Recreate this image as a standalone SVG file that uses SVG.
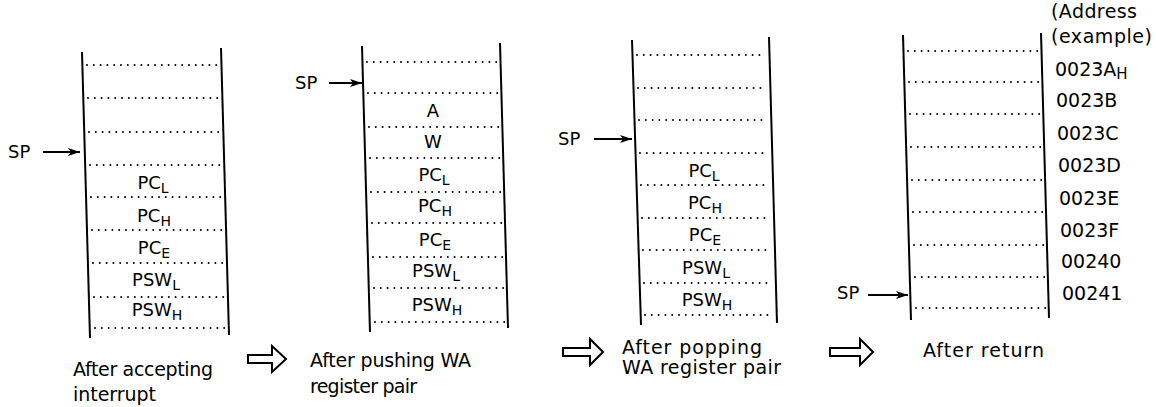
<svg xmlns="http://www.w3.org/2000/svg" width="1156" height="407" viewBox="0 0 1156 407">
<defs>
<style>
.wall{stroke:#000;stroke-width:2;fill:none}
.dot{stroke:#000;stroke-width:2;stroke-dasharray:0 6.8;stroke-linecap:round;fill:none}
.lbl{font-family:"DejaVu Sans","Liberation Sans",sans-serif;font-size:18px;fill:#000;text-anchor:middle}
.sp{font-family:"DejaVu Sans","Liberation Sans",sans-serif;font-size:18px;fill:#000}
.cap{font-family:"DejaVu Sans","Liberation Sans",sans-serif;font-size:19px;fill:#000}
.addr{font-family:"DejaVu Sans","Liberation Sans",sans-serif;font-size:19px;fill:#000}
.arr{stroke:#000;stroke-width:2;fill:none}
.hollow{stroke:#000;stroke-width:2;fill:#fff;stroke-linejoin:miter}
</style>
<marker id="ah" viewBox="0 0 12 8" refX="12" refY="4" markerWidth="12" markerHeight="8" markerUnits="userSpaceOnUse" orient="auto">
<path d="M0,0 L12,4 L0,8 L3,4 Z" fill="#000"/>
</marker>
</defs>

<g id="stack1">
<line class="wall" x1="82" y1="52" x2="90" y2="338"/>
<line class="wall" x1="221" y1="48" x2="229" y2="335"/>
<line class="dot" x1="87" y1="65" x2="218" y2="65"/>
<line class="dot" x1="88" y1="98" x2="219" y2="98"/>
<line class="dot" x1="89" y1="132" x2="220" y2="132"/>
<line class="dot" x1="90" y1="165" x2="221" y2="165"/>
<line class="dot" x1="91" y1="197" x2="222" y2="197"/>
<line class="dot" x1="92" y1="230" x2="223" y2="230"/>
<line class="dot" x1="93" y1="263" x2="224" y2="263"/>
<line class="dot" x1="94" y1="297" x2="225" y2="297"/>
<line class="dot" x1="95" y1="328" x2="226" y2="328"/>
<text class="lbl" x="153" y="189">PC<tspan font-size="14" dy="4">L</tspan></text>
<text class="lbl" x="154" y="222">PC<tspan font-size="14" dy="4">H</tspan></text>
<text class="lbl" x="154" y="254">PC<tspan font-size="14" dy="4">E</tspan></text>
<text class="lbl" x="156" y="286">PSW<tspan font-size="14" dy="4">L</tspan></text>
<text class="lbl" x="157" y="316">PSW<tspan font-size="14" dy="4">H</tspan></text>
<text class="cap" x="73" y="376" textLength="140" lengthAdjust="spacing">After accepting</text>
<text class="cap" x="73" y="401" textLength="83" lengthAdjust="spacing">interrupt</text>
</g>

<g id="stack2">
<line class="wall" x1="362" y1="46" x2="370" y2="332"/>
<line class="wall" x1="500" y1="43" x2="508" y2="328"/>
<line class="dot" x1="367" y1="62" x2="497" y2="62"/>
<line class="dot" x1="368" y1="93" x2="498" y2="93"/>
<line class="dot" x1="369" y1="127" x2="499" y2="127"/>
<line class="dot" x1="370" y1="158" x2="500" y2="158"/>
<line class="dot" x1="371" y1="192" x2="501" y2="192"/>
<line class="dot" x1="372" y1="223" x2="502" y2="223"/>
<line class="dot" x1="373" y1="257" x2="503" y2="257"/>
<line class="dot" x1="374" y1="288" x2="504" y2="288"/>
<line class="dot" x1="375" y1="322" x2="505" y2="322"/>
<text class="lbl" x="433" y="117">A</text>
<text class="lbl" x="433" y="148">W</text>
<text class="lbl" x="434" y="181">PC<tspan font-size="14" dy="4">L</tspan></text>
<text class="lbl" x="435" y="212">PC<tspan font-size="14" dy="4">H</tspan></text>
<text class="lbl" x="435" y="246">PC<tspan font-size="14" dy="4">E</tspan></text>
<text class="lbl" x="436" y="277">PSW<tspan font-size="14" dy="4">L</tspan></text>
<text class="lbl" x="437" y="311">PSW<tspan font-size="14" dy="4">H</tspan></text>
<text class="cap" x="310" y="367" textLength="161" lengthAdjust="spacing">After pushing WA</text>
<text class="cap" x="310" y="393" textLength="107" lengthAdjust="spacing">register pair</text>
</g>

<g id="stack3">
<line class="wall" x1="632" y1="40" x2="641" y2="325"/>
<line class="wall" x1="769" y1="37" x2="777" y2="323"/>
<line class="dot" x1="637" y1="55" x2="766" y2="55"/>
<line class="dot" x1="638" y1="88" x2="767" y2="88"/>
<line class="dot" x1="639" y1="120" x2="768" y2="120"/>
<line class="dot" x1="640" y1="153" x2="769" y2="153"/>
<line class="dot" x1="641" y1="185" x2="770" y2="185"/>
<line class="dot" x1="642" y1="218" x2="771" y2="218"/>
<line class="dot" x1="643" y1="250" x2="772" y2="250"/>
<line class="dot" x1="644" y1="283" x2="773" y2="283"/>
<line class="dot" x1="645" y1="315" x2="774" y2="315"/>
<text class="lbl" x="704" y="177">PC<tspan font-size="14" dy="4">L</tspan></text>
<text class="lbl" x="705" y="209">PC<tspan font-size="14" dy="4">H</tspan></text>
<text class="lbl" x="705" y="241">PC<tspan font-size="14" dy="4">E</tspan></text>
<text class="lbl" x="706" y="274">PSW<tspan font-size="14" dy="4">L</tspan></text>
<text class="lbl" x="707" y="306">PSW<tspan font-size="14" dy="4">H</tspan></text>
<text class="cap" x="622" y="354" textLength="140" lengthAdjust="spacing">After popping</text>
<text class="cap" x="622" y="374" textLength="159" lengthAdjust="spacing">WA register pair</text>
</g>

<g id="stack4">
<line class="wall" x1="903" y1="35" x2="911" y2="320"/>
<line class="wall" x1="1041" y1="33" x2="1049" y2="318"/>
<line class="dot" x1="908" y1="51" x2="1038" y2="51"/>
<line class="dot" x1="909" y1="82" x2="1039" y2="82"/>
<line class="dot" x1="910" y1="114" x2="1040" y2="114"/>
<line class="dot" x1="911" y1="147" x2="1041" y2="147"/>
<line class="dot" x1="912" y1="180" x2="1042" y2="180"/>
<line class="dot" x1="913" y1="212" x2="1043" y2="212"/>
<line class="dot" x1="914" y1="245" x2="1044" y2="245"/>
<line class="dot" x1="915" y1="277" x2="1045" y2="277"/>
<line class="dot" x1="916" y1="308" x2="1046" y2="308"/>
<text class="cap" x="923" y="357" textLength="121" lengthAdjust="spacing">After return</text>
</g>

<g id="addresses">
<text class="addr" x="1051" y="18" textLength="86" lengthAdjust="spacing">(Address</text>
<text class="addr" x="1051" y="43" textLength="101" lengthAdjust="spacing">(example)</text>
<text class="addr" x="1055" y="76">0023A<tspan font-size="15" dy="3">H</tspan></text>
<text class="addr" x="1056" y="107">0023B</text>
<text class="addr" x="1057" y="140">0023C</text>
<text class="addr" x="1058" y="172">0023D</text>
<text class="addr" x="1059" y="205">0023E</text>
<text class="addr" x="1060" y="237">0023F</text>
<text class="addr" x="1061" y="268">00240</text>
<text class="addr" x="1062" y="300">00241</text>
</g>

<g id="connectors">
<text class="sp" x="8" y="158">SP</text>
<line class="arr" x1="43" y1="152" x2="80" y2="152" marker-end="url(#ah)"/>
<text class="sp" x="295" y="89">SP</text>
<line class="arr" x1="329" y1="83" x2="362" y2="83" marker-end="url(#ah)"/>
<text class="sp" x="558" y="145">SP</text>
<line class="arr" x1="594" y1="139" x2="632" y2="139" marker-end="url(#ah)"/>
<text class="sp" x="837" y="299">SP</text>
<line class="arr" x1="868" y1="295" x2="908" y2="295" marker-end="url(#ah)"/>
<polygon class="hollow" points="248,355 272,355 272,346 286,359 272,372 272,363 248,363"/>
<polygon class="hollow" points="563,348 590,348 590,339 603,352 590,365 590,356 563,356"/>
<polygon class="hollow" points="830,348 860,348 860,339 873,352 860,365 860,356 830,356"/>
</g>
</svg>
